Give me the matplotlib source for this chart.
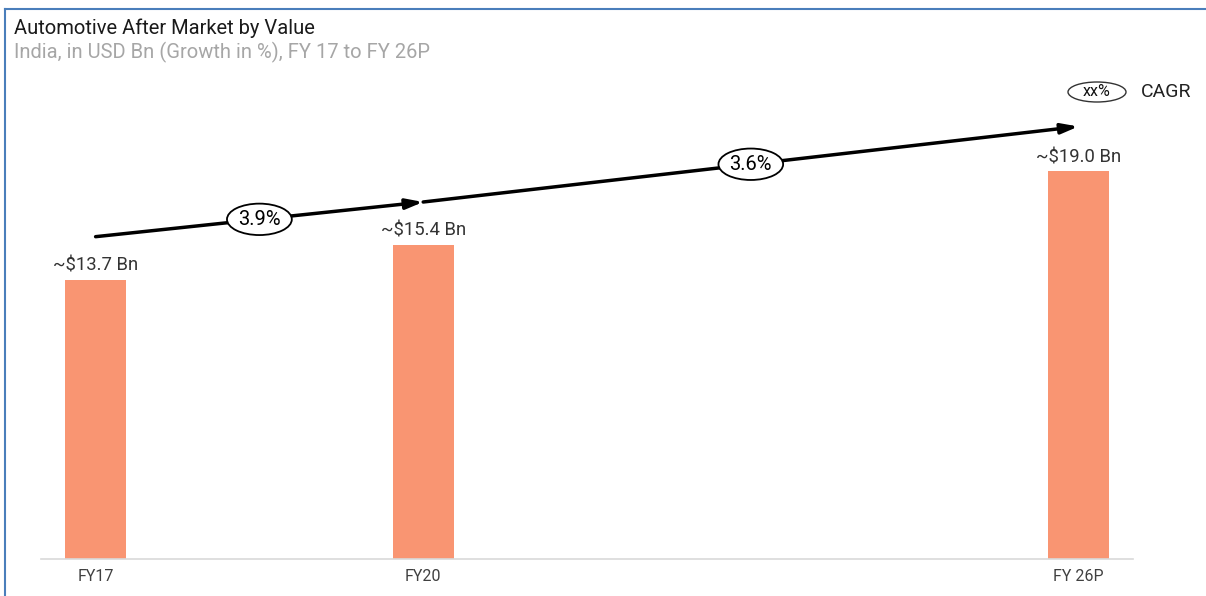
import matplotlib.pyplot as plt
from matplotlib.patches import Ellipse

plt.rcParams['font.family'] = ['Roboto', 'DejaVu Sans']

# data
years = [17, 20, 26]
tick_labels = ['FY17', 'FY20', 'FY 26P']
values = [13.7, 15.4, 19.0]
value_labels = ['~$13.7 Bn', '~$15.4 Bn', '~$19.0 Bn']
cagr_labels = ['3.9%', '3.6%']
arrow_y = [15.8, 17.5, 21.2]

fig = plt.figure(figsize=(12.06, 5.96), dpi=100)
ax = fig.add_axes([41 / 1206, 37 / 596, (1133 - 41) / 1206, (559 - 37) / 596])

ax.bar(years, values, width=0.56, color='#F99572')
ax.set_xlim(16.5, 26.5)
ax.set_ylim(0, 522 / 20.4)
ax.set_xticks(years)
ax.set_xticklabels(tick_labels, fontsize=11.5, color='#404040')
ax.tick_params(axis='x', length=0, pad=7)
ax.set_yticks([])
for s in ['top', 'right', 'left']:
    ax.spines[s].set_visible(False)
ax.spines['bottom'].set_color('#d9d9d9')
ax.spines['bottom'].set_linewidth(1.2)

for x, v, lab in zip(years, values, value_labels):
    ax.text(x, v + 0.25, lab, ha='center', va='bottom', fontsize=13.3, color='#333333')

# CAGR arrows
for i in range(2):
    ax.annotate('', xy=(years[i + 1], arrow_y[i + 1]), xytext=(years[i], arrow_y[i]),
                arrowprops=dict(arrowstyle='-|>,head_length=1.0,head_width=0.3',
                                color='black', lw=2.5, shrinkA=0, shrinkB=0))
    mx = (years[i] + years[i + 1]) / 2
    my = (arrow_y[i] + arrow_y[i + 1]) / 2
    ax.text(mx, my, cagr_labels[i], ha='center', va='center', fontsize=14.5, zorder=5,
            bbox=dict(boxstyle='ellipse,pad=0.08', fc='white', ec='black', lw=1.3))

# legend
fig.add_artist(Ellipse((1097 / 1206, 1 - 92 / 596), 58 / 1206, 20 / 596,
                       transform=fig.transFigure, fc='white', ec='#333333', lw=1))
fig.text(1097 / 1206, 1 - 92 / 596, 'xx%', ha='center', va='center', fontsize=11.5, color='#111111')
fig.text(1141 / 1206, 1 - 92 / 596, 'CAGR', ha='left', va='center', fontsize=14, color='#222222')

# titles
fig.text(14 / 1206, 1 - 28 / 596, 'Automotive After Market by Value', fontsize=14.5,
         color='#1a1a1a', va='center')
fig.text(14 / 1206, 1 - 52 / 596, 'India, in USD Bn (Growth in %), FY 17 to FY 26P', fontsize=14.5,
         color='#a6a6a6', va='center')

# frame border
fig.add_artist(plt.Line2D([5 / 1206, 1], [1 - 9 / 596, 1 - 9 / 596], color='#4a7ebb', lw=1.5))
fig.add_artist(plt.Line2D([5 / 1206, 5 / 1206], [0, 1 - 9 / 596], color='#4a7ebb', lw=1.5))

fig.savefig('out.png', dpi=100)
